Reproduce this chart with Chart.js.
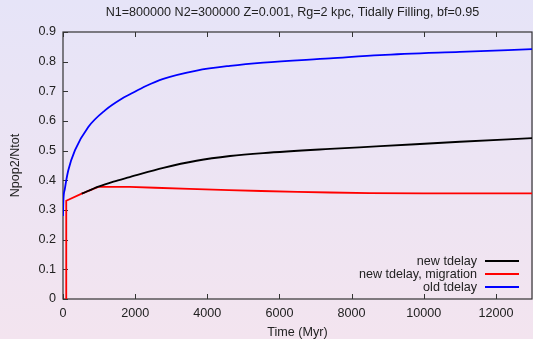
<!DOCTYPE html>
<html>
<head>
<meta charset="utf-8">
<script src="https://cdn.jsdelivr.net/npm/chart.js@4/dist/chart.umd.min.js"></script>
<style>
  html, body { margin: 0; padding: 0; }
  body { width: 533px; height: 339px; background: linear-gradient(to bottom, #e6e4f8, #f3e4ef); overflow: hidden; }
  canvas { display: block; }
</style>
</head>
<body>
<canvas id="c" width="533" height="339"></canvas>
<script>
// values
const titleText = 'N1=800000 N2=300000 Z=0.001, Rg=2 kpc, Tidally Filling, bf=0.95';
const seriesNames = ['new tdelay', 'new tdelay, migration', 'old tdelay'];
const xTicks = [0, 2000, 4000, 6000, 8000, 10000, 12000];
const yTicks = [0, 0.1, 0.2, 0.3, 0.4, 0.5, 0.6, 0.7, 0.8, 0.9];

const tNew = [520, 980, 1400, 1850, 2780, 3700, 4630, 5550, 7400, 8800, 11000, 13000];
const yNew = [0.355, 0.379, 0.396, 0.411, 0.442, 0.466, 0.482, 0.492, 0.506, 0.515, 0.530, 0.542];

const tMig = [85, 90, 520, 980, 1850, 2550, 3500, 4600, 5500, 6500, 7400, 8500, 10000, 11500, 13000];
const yMig = [0, 0.331, 0.355, 0.378, 0.378, 0.375, 0.371, 0.367, 0.364, 0.361, 0.359, 0.357, 0.356, 0.356, 0.356];

const tOld = [0, 10, 50, 147, 333, 701, 1164, 1627, 1857, 2300, 2780, 3706, 4629, 5552, 7400, 8786, 11000, 13000];
const yOld = [0.28, 0.33, 0.37, 0.434, 0.502, 0.58, 0.636, 0.675, 0.690, 0.718, 0.742, 0.770, 0.786, 0.797, 0.811, 0.822, 0.833, 0.842];

const textCol = '#222';
const fnt = { family: '"Liberation Sans", Arial, sans-serif', size: 12.6 };

function pts(ts, ys) {
  return ts.map((t, i) => ({ x: t, y: ys[i] }));
}

// gnuplot-like frame, inward ticks, title and legend
const framePlugin = {
  id: 'frame',
  beforeDatasetsDraw(chart) {
    const { ctx, chartArea: a, scales } = chart;
    ctx.save();
    ctx.strokeStyle = '#333';
    ctx.lineWidth = 1.2;
    ctx.strokeRect(a.left, a.top, a.right - a.left, a.bottom - a.top);
    ctx.lineWidth = 1;
    ctx.beginPath();
    xTicks.forEach(v => {
      const px = Math.round(scales.x.getPixelForValue(v)) + 0.5;
      ctx.moveTo(px, a.bottom); ctx.lineTo(px, a.bottom - 5);
      ctx.moveTo(px, a.top); ctx.lineTo(px, a.top + 5);
    });
    yTicks.forEach(v => {
      const py = Math.round(scales.y.getPixelForValue(v)) + 0.5;
      ctx.moveTo(a.left, py); ctx.lineTo(a.left + 5, py);
    });
    ctx.stroke();
    ctx.restore();
  },
  afterDatasetsDraw(chart) {
    const { ctx, chartArea: a } = chart;
    ctx.save();
    ctx.font = fnt.size + 'px ' + fnt.family;
    ctx.fillStyle = textCol;
    ctx.textBaseline = 'middle';
    ctx.textAlign = 'center';
    ctx.fillText(titleText, 292.5, 12.5);
    ctx.textAlign = 'right';
    chart.data.datasets.forEach((ds, i) => {
      const y = a.bottom - 38 + i * 13;
      ctx.fillText(ds.label, a.right - 55, y + 1);
      ctx.strokeStyle = ds.borderColor;
      ctx.lineWidth = 2;
      ctx.beginPath();
      ctx.moveTo(a.right - 47, y);
      ctx.lineTo(a.right - 13, y);
      ctx.stroke();
    });
    ctx.restore();
  }
};

new Chart(document.getElementById('c'), {
  type: 'line',
  data: {
    datasets: [
      { label: seriesNames[0], data: pts(tNew, yNew), borderColor: '#000000', borderWidth: 1.8, cubicInterpolationMode: 'monotone' },
      { label: seriesNames[1], data: pts(tMig, yMig), borderColor: '#ff0000', borderWidth: 1.8, tension: 0 },
      { label: seriesNames[2], data: pts(tOld, yOld), borderColor: '#0000ff', borderWidth: 1.8, cubicInterpolationMode: 'monotone' }
    ]
  },
  options: {
    responsive: false,
    animation: false,
    layout: { padding: { right: 1, left: 0, top: 32, bottom: 0 } },
    elements: { point: { radius: 0 } },
    plugins: {
      legend: { display: false },
      tooltip: { enabled: false },
      title: { display: false }
    },
    scales: {
      x: {
        type: 'linear',
        min: 0,
        max: 13000,
        afterBuildTicks(s) { s.ticks = xTicks.map(v => ({ value: v })); },
        afterFit(s) { s.height = 40; },
        grid: { display: false, drawTicks: false },
        border: { display: false },
        ticks: { autoSkip: false, padding: 7, color: textCol, font: fnt, maxRotation: 0, minRotation: 0,
                 callback: v => String(v) },
        title: { display: true, text: 'Time (Myr)', color: textCol, font: { ...fnt, lineHeight: 1 }, padding: { top: 0, bottom: 0 } }
      },
      y: {
        min: 0,
        max: 0.9,
        afterBuildTicks(s) { s.ticks = yTicks.map(v => ({ value: v })); },
        afterFit(s) { s.width = 63; },
        grid: { display: false, drawTicks: false },
        border: { display: false },
        ticks: { autoSkip: false, padding: 7, color: textCol, font: fnt,
                 callback: v => String(v) },
        title: { display: true, text: 'Npop2/Ntot', color: textCol, font: { ...fnt, lineHeight: 1.2 }, padding: { top: 8.1, bottom: 0 } }
      }
    }
  },
  plugins: [framePlugin]
});
</script>
</body>
</html>
